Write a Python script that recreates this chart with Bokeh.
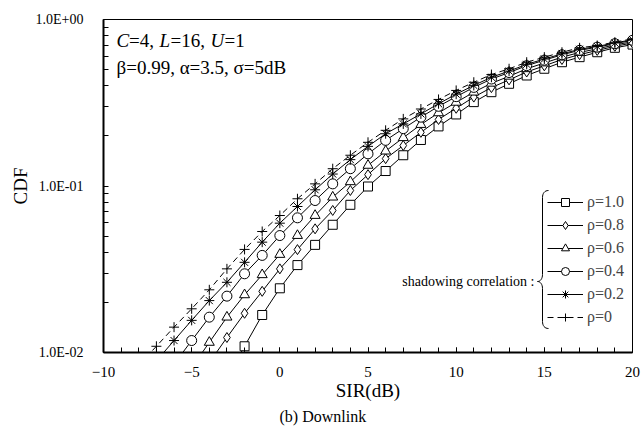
import numpy as np
from bokeh.plotting import figure
from bokeh.models import (FixedTicker, CustomJSTickFormatter, Label, Legend,
                          LegendItem, Range1d, Title)
from bokeh.embed import file_html
from bokeh.resources import INLINE

FONT = "Liberation Serif"

# ---------------- data ----------------
sir_rho10 = list(range(-3, 21))
cdf_rho10 = [0.0071, 0.0109, 0.0168, 0.0243, 0.0335, 0.0443, 0.0585, 0.0771,
             0.0993, 0.123, 0.153, 0.189, 0.228, 0.269, 0.319, 0.366, 0.411,
             0.461, 0.506, 0.554, 0.594, 0.636, 0.676, 0.707]

sir_rho08 = list(range(-4, 21))
cdf_rho08 = [0.0087, 0.0123, 0.0172, 0.0233, 0.0318, 0.0415, 0.0553, 0.0713,
             0.094, 0.117, 0.146, 0.175, 0.21, 0.251, 0.293, 0.342, 0.390,
             0.434, 0.484, 0.527, 0.575, 0.615, 0.652, 0.690, 0.723]

sir_rho06 = list(range(-5, 21))
cdf_rho06 = [0.0081, 0.0115, 0.0163, 0.0222, 0.0293, 0.0388, 0.0504, 0.0665,
             0.0857, 0.106, 0.133, 0.162, 0.195, 0.234, 0.275, 0.318, 0.366,
             0.414, 0.456, 0.506, 0.548, 0.594, 0.634, 0.667, 0.703, 0.736]

sir_rho04 = list(range(-6, 21))
cdf_rho04 = [0.0085, 0.0118, 0.0163, 0.0218, 0.0297, 0.0383, 0.0504, 0.0644,
             0.0818, 0.103, 0.127, 0.156, 0.188, 0.221, 0.259, 0.301, 0.344,
             0.391, 0.439, 0.480, 0.528, 0.570, 0.614, 0.653, 0.682, 0.716,
             0.750]

sir_rho02 = list(range(-7, 21))
cdf_rho02 = [0.0089, 0.0118, 0.0156, 0.0205, 0.0264, 0.0348, 0.046, 0.0598,
             0.0753, 0.0949, 0.118, 0.144, 0.173, 0.206, 0.236, 0.271, 0.312,
             0.356, 0.402, 0.450, 0.490, 0.538, 0.579, 0.622, 0.662, 0.689,
             0.723, 0.757]

sir_rho00 = list(range(-8, 21))
cdf_rho00 = [0.0084, 0.0109, 0.0142, 0.0183, 0.0238, 0.0318, 0.0416, 0.0533,
             0.0665, 0.0838, 0.103, 0.127, 0.153, 0.183, 0.216, 0.253, 0.29,
             0.331, 0.375, 0.42, 0.467, 0.506, 0.554, 0.594, 0.636, 0.676,
             0.698, 0.731, 0.766]

legend_labels = ["ρ=1.0", "ρ=0.8", "ρ=0.6", "ρ=0.4", "ρ=0.2", "ρ=0"]
x_major_ticks = [-10, -5, 0, 5, 10, 15, 20]
x_minor_ticks = list(range(-10, 21))
y_major_ticks = [0.01, 0.1, 1.0]
y_minor_ticks = [k * 10.0 ** e for e in (-2, -1) for k in range(2, 10)]

series = [
    (sir_rho10, cdf_rho10, "square", 9, "solid"),
    (sir_rho08, cdf_rho08, "diamond", 10, "solid"),
    (sir_rho06, cdf_rho06, "triangle", 10, "solid"),
    (sir_rho04, cdf_rho04, "circle", 10, "solid"),
    (sir_rho02, cdf_rho02, "asterisk", 10, "solid"),
    (sir_rho00, cdf_rho00, "cross", 10, "6 4"),
]

# ---------------- figure ----------------
X0, X1, Y0, Y1 = -10, 20, 0.01, 1.0
W, H = 641, 430
BL, BR, BT, BB = 103, 9, 19, 78
FW, FH = W - BL - BR, H - BT - BB

p = figure(width=W, height=H,
           x_range=Range1d(X0, X1), y_range=Range1d(Y0, Y1),
           y_axis_type="log", output_backend="svg", toolbar_location=None,
           min_border_left=BL, min_border_right=BR, min_border_top=BT,
           min_border_bottom=BB)
p.background_fill_color = "white"
p.border_fill_color = "white"
p.outline_line_color = "black"
p.outline_line_width = 1
p.xgrid.visible = False
p.ygrid.visible = False

# helpers: canvas pixel -> data (for annotation placement only)
def px2x(px):
    return X0 + (px - BL) * (X1 - X0) / FW

def py2y(py):
    return 10 ** (np.log10(Y1) - (py - BT) * (np.log10(Y1) - np.log10(Y0)) / FH)

items = []
for (xs, ys, mk, sz, dash), lab in zip(series, legend_labels):
    lr = p.line(xs, ys, line_color="black", line_width=1, line_dash=dash)
    sr = p.scatter(xs, ys, marker=mk, size=sz, fill_color="white",
                   line_color="black", line_width=1)
    items.append(LegendItem(label=lab, renderers=[lr, sr]))

# ---------------- axes ----------------
for ax in (p.xaxis[0], p.yaxis[0]):
    ax.axis_line_width = 2
    ax.axis_line_color = "black"
    ax.major_tick_in = 5
    ax.major_tick_out = 0
    ax.minor_tick_in = 5
    ax.minor_tick_out = 0
    ax.major_tick_line_color = "black"
    ax.minor_tick_line_color = "black"
    ax.major_label_text_font = FONT
    ax.major_label_text_color = "black"
    ax.axis_label_text_font = FONT
    ax.axis_label_text_font_style = "normal"
    ax.axis_label_text_color = "black"

p.xaxis.ticker = FixedTicker(ticks=x_major_ticks, minor_ticks=x_minor_ticks)
p.xaxis.major_label_text_font_size = "15px"
p.xaxis.major_label_standoff = 14
p.xaxis.axis_label = "SIR(dB)"
p.xaxis.axis_label_text_font_size = "19px"
p.xaxis.axis_label_standoff = 0

p.yaxis.ticker = FixedTicker(ticks=y_major_ticks, minor_ticks=y_minor_ticks)
p.yaxis.formatter = CustomJSTickFormatter(code="""
    const e = Math.round(Math.log10(tick));
    const s = e < 0 ? "-" : "+";
    return "1.0E" + s + String(Math.abs(e)).padStart(2, "0");
""")
p.yaxis.major_label_text_font_size = "14px"
p.yaxis.major_label_standoff = 20
p.yaxis.axis_label = "CDF"
p.yaxis.axis_label_text_font_size = "19px"
p.yaxis.axis_label_standoff = 2

# ---------------- caption below the axis ----------------
p.add_layout(Title(text="(b) Downlink", text_font=FONT, text_font_size="16px",
                   text_font_style="normal", text_color="black",
                   align="left", offset=176, standoff=4), "below")

# ---------------- legend ----------------
legend = Legend(items=items, location=(444, 25), glyph_width=36,
                glyph_height=20, label_height=20, spacing=3, padding=0,
                margin=0, border_line_alpha=0, background_fill_alpha=0,
                label_text_font=FONT, label_text_font_size="16px",
                label_standoff=4)
p.add_layout(legend)

# curly brace in front of the legend (tip lower than centre, as drawn)
TIP = 281
brace_curves = [
    ((548, 190), (544, 190), (542, 193), (542, 197)),
    ((542, TIP - 7), (542, TIP - 3), (540, TIP), (537, TIP)),
    ((537, TIP), (540, TIP), (542, TIP + 3), (542, TIP + 7)),
    ((542, 321), (542, 325), (544, 328), (548, 328)),
]
for (a, c0, c1, b) in brace_curves:
    p.bezier(x0=[px2x(a[0])], y0=[py2y(a[1])], x1=[px2x(b[0])], y1=[py2y(b[1])],
             cx0=[px2x(c0[0])], cy0=[py2y(c0[1])], cx1=[px2x(c1[0])], cy1=[py2y(c1[1])],
             line_color="black", line_width=1)
p.segment(x0=[px2x(542), px2x(542)], y0=[py2y(197), py2y(TIP + 7)],
          x1=[px2x(542), px2x(542)], y1=[py2y(TIP - 7), py2y(321)],
          line_color="black", line_width=1)

p.add_layout(Label(x=px2x(534), y=py2y(TIP), text="shadowing correlation :",
                   text_font=FONT, text_font_size="14px", text_align="right",
                   text_baseline="middle", text_color="black"))

# ---------------- parameter text ----------------
line1 = [("C", "italic", 0), ("=4,", "normal", 12.5), ("L", "italic", 43),
         ("=16,", "normal", 54), ("U", "italic", 94), ("=1", "normal", 108)]
for txt, style, dx in line1:
    p.add_layout(Label(x=X0, y=Y1, x_offset=13 + dx, y_offset=-21, text=txt,
                       text_font=FONT, text_font_size="19px",
                       text_font_style=style, text_baseline="alphabetic",
                       text_color="black"))
p.add_layout(Label(x=X0, y=Y1, x_offset=13, y_offset=-48,
                   text="β=0.99,  α=3.5,  σ=5dB", text_font=FONT,
                   text_font_size="19px", text_baseline="alphabetic",
                   text_color="black"))

open("out.html", "w").write(file_html(p, INLINE))
